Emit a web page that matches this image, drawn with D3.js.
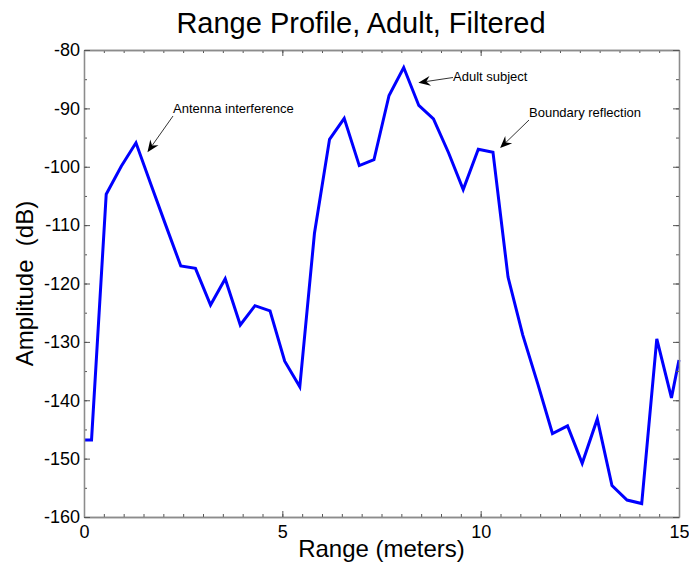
<!DOCTYPE html>
<html>
<head>
<meta charset="utf-8">
<script src="https://cdn.jsdelivr.net/npm/d3@7"></script>
<style>
  html, body { margin: 0; padding: 0; background: #fff; }
  svg { display: block; font-family: "Liberation Sans", Arial, sans-serif; }
</style>
</head>
<body>
<svg id="chart" width="689" height="572"></svg>
<script>
// ---- data ----
const ranges = [0, 0.19, 0.56, 0.94, 1.31, 1.69, 2.06, 2.44, 2.81, 3.19, 3.56, 3.94, 4.31, 4.69,
  5.06, 5.44, 5.81, 6.19, 6.56, 6.94, 7.31, 7.69, 8.06, 8.44, 8.81, 9.19, 9.56, 9.94, 10.31,
  10.69, 11.06, 11.44, 11.81, 12.19, 12.56, 12.94, 13.31, 13.69, 14.06, 14.44, 14.81, 15];
const amplitude = [-146.8, -146.8, -104.7, -99.9, -95.9, -103.1, -110.0, -117.0, -117.4, -123.7,
  -119.2, -127.1, -123.8, -124.7, -133.3, -137.7, -111.4, -95.3, -91.7, -99.8, -98.8, -87.8,
  -83.0, -89.5, -91.8, -97.6, -103.9, -97.0, -97.5, -118.9, -128.8, -137.2, -145.7, -144.4,
  -150.8, -143.2, -154.6, -157.1, -157.7, -129.5, -139.6, -133.1];
const xTicks = [0, 5, 10, 15];
const yTicks = [-160, -150, -140, -130, -120, -110, -100, -90, -80];
const annotations = [
  { text: "Antenna interference", tx: 173, ty: 113, x1: 173, y1: 116, x: 1.6, y: -97.5 },
  { text: "Adult subject", tx: 453, ty: 81, x1: 453, y1: 77.5, x: 8.43, y: -85.6 },
  { text: "Boundary reflection", tx: 529, ty: 117, x1: 529, y1: 120, x: 10.49, y: -96.8 }
];
const title = "Range Profile, Adult, Filtered";
const xLabel = "Range (meters)";
const yLabel = "Amplitude  (dB)";

// ---- layout ----
const L = 84, R = 679, T = 50, B = 517;
const svg = d3.select("#chart");
const x = d3.scaleLinear().domain([0, 15]).range([L, R]);
const y = d3.scaleLinear().domain([-160, -80]).range([B, T]);

// line
const line = d3.line().x((d, i) => x(ranges[i])).y(d => y(d));
svg.append("path")
  .datum(amplitude)
  .attr("d", line)
  .attr("fill", "none")
  .attr("stroke", "#0000ff")
  .attr("stroke-width", 3)
  .attr("stroke-linejoin", "miter");

// axes
const minorX = d3.range(0, 15.001, 0.5);
const minorY = d3.range(-160, -79.999, 5);
function styleAxis(g) {
  g.select(".domain").attr("stroke", "#8c8c8c").attr("stroke-width", 1.3);
  g.selectAll(".tick line").attr("stroke", "#555").attr("stroke-width", 1);
  g.selectAll("text").attr("fill", "#000").attr("font-size", 18)
    .attr("font-family", "Liberation Sans, Arial, sans-serif");
}
function minor(axis, vals) {
  return axis.tickValues(vals).tickSizeInner(-3).tickSizeOuter(0).tickFormat("");
}
// minor first
svg.append("g").attr("transform", `translate(0,${B})`).call(minor(d3.axisBottom(x), minorX)).call(styleAxis);
svg.append("g").attr("transform", `translate(0,${T})`).call(minor(d3.axisTop(x), minorX)).call(styleAxis);
svg.append("g").attr("transform", `translate(${L},0)`).call(minor(d3.axisLeft(y), minorY)).call(styleAxis);
svg.append("g").attr("transform", `translate(${R},0)`).call(minor(d3.axisRight(y), minorY)).call(styleAxis);

svg.append("g").attr("transform", `translate(0,${B})`)
  .call(d3.axisBottom(x).tickValues(xTicks).tickSizeInner(-6).tickSizeOuter(0).tickPadding(8).tickFormat(d3.format("d")))
  .call(styleAxis);
svg.append("g").attr("transform", `translate(0,${T})`)
  .call(d3.axisTop(x).tickValues(xTicks).tickSizeInner(-6).tickSizeOuter(0).tickFormat(""))
  .call(styleAxis);
svg.append("g").attr("transform", `translate(${L},0)`)
  .call(d3.axisLeft(y).tickValues(yTicks).tickSizeInner(-6).tickSizeOuter(0).tickPadding(4).tickFormat(d => String(d).replace("\u2212", "-")))
  .call(styleAxis);
svg.append("g").attr("transform", `translate(${R},0)`)
  .call(d3.axisRight(y).tickValues(yTicks).tickSizeInner(-6).tickSizeOuter(0).tickFormat(""))
  .call(styleAxis);
svg.selectAll("g text").attr("font-family", null);

// title & labels
svg.append("text").attr("x", 361).attr("y", 33).attr("text-anchor", "middle")
  .attr("font-size", 29).attr("fill", "#000").text(title);
svg.append("text").attr("x", (L + R) / 2).attr("y", 557).attr("text-anchor", "middle")
  .attr("font-size", 24).attr("fill", "#000").text(xLabel);
svg.append("text").attr("transform", `translate(33,${(T + B) / 2}) rotate(-90)`)
  .attr("text-anchor", "middle").attr("font-size", 24).attr("fill", "#000")
  .attr("xml:space", "preserve").style("white-space", "pre").text(yLabel);

// annotations
const ann = svg.append("g");
annotations.forEach(a => {
  const tx = x(a.x), ty = y(a.y);
  const dx = tx - a.x1, dy = ty - a.y1;
  const len = Math.hypot(dx, dy), ux = dx / len, uy = dy / len;
  const hl = 12, hw = 5, notch = 8;
  const bx = tx - ux * hl, by = ty - uy * hl;
  const nx = tx - ux * notch, ny = ty - uy * notch;
  ann.append("line").attr("x1", a.x1).attr("y1", a.y1).attr("x2", nx).attr("y2", ny)
    .attr("stroke", "#000").attr("stroke-width", 0.8);
  ann.append("path")
    .attr("d", `M${tx},${ty}L${bx - uy * hw},${by + ux * hw}L${nx},${ny}L${bx + uy * hw},${by - ux * hw}Z`)
    .attr("fill", "#000");
  ann.append("text").attr("x", a.tx).attr("y", a.ty).attr("font-size", 13).attr("fill", "#000").text(a.text);
});
</script>
</body>
</html>
